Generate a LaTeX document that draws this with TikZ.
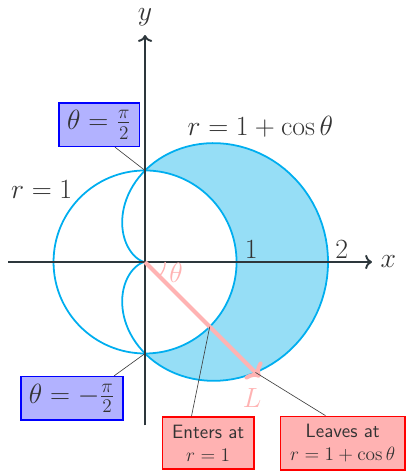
\documentclass[tikz,border=0pt]{standalone}
\usepackage{amsmath,amssymb}
\usepackage{xcolor}
\usepackage{tikz}
\usetikzlibrary{arrows.meta,positioning,calc}
\definecolor{cardcyan}{RGB}{0,174,239}
\definecolor{shadeblue}{RGB}{150,222,246}
\definecolor{axisgray}{RGB}{45,55,60}
\definecolor{textgray}{RGB}{51,51,51}
\definecolor{raypink}{RGB}{255,179,179}
\tikzset{
  axisline/.style={line width=1.2pt, axisgray, ->},
  curve/.style={line width=1.1pt, cardcyan},
  region/.style={fill=shadeblue},
  raystyle/.style={line width=2.5pt, raypink, ->},
  lbl/.style={font=\LARGE, text=textgray},
  thetabox/.style={rectangle, draw=blue, line width=1pt, fill=blue!30, font=\LARGE, text=textgray, inner xsep=5pt, inner ysep=4.5pt},
  notebox/.style={rectangle, draw=red, line width=1pt, fill=red!30, font=\large\sffamily, align=center, text=textgray, inner xsep=6pt, inner ysep=5pt},
  pointer/.style={thin, black!75}
}

\begin{document}
\begin{tikzpicture}[x=2cm,y=2cm]
  \useasboundingbox (-1.585,-2.295) rectangle (2.918,2.863);
  % shaded part between circle and cardioid
  \fill[region] plot[domain=-90:90,samples=100] ({(1+cos(\x))*cos(\x)},{(1+cos(\x))*sin(\x)})
    arc[start angle=90,end angle=-90,radius=1] -- cycle;
  \draw[curve] (0,0) circle[radius=1];
  \draw[curve] plot[domain=0:360,samples=150] ({(1+cos(\x))*cos(\x)},{(1+cos(\x))*sin(\x)}) -- cycle;

  % axes
  \coordinate (O) at (0,0);
  \coordinate (xl) at (-1.497,0);
  \coordinate (xr) at (2.48,0);
  \coordinate (yb) at (0,-1.786);
  \coordinate (yt) at (0,2.48);
  \draw[axisline] (xl) -- (xr);
  \draw[axisline] (yb) -- (yt);
  \node[lbl] (xlbl) at (2.66,0) {$x$};
  \node[lbl] (ylbl) at (0,2.68) {$y$};
  \node[lbl] (one) at (1.16,0.14) {$1$};
  \node[lbl] (two) at (2.15,0.14) {$2$};
  \node[lbl] (rone) at (-1.13,0.79) {$r=1$};
  \node[lbl] (rcard) at (1.26,1.475) {$r=1+\cos\theta$};

  % ray L
  \coordinate (top) at (0,1);
  \coordinate (bot) at (0,-1);
  \coordinate (ent) at (-45:1);
  \coordinate (lv) at (-45:1.7071);
  \coordinate (Lend) at (-45:1.78);
  \draw[raystyle] (O) -- (Lend);
  \draw[raypink, thick] (0.22,0) arc[start angle=0,end angle=-45,radius=0.22];
  \node[lbl, text=raypink] (thlbl) at (0.34,-0.12) {$\theta$};
  \node[lbl, text=raypink] (Llbl) at (1.17,-1.49) {$L$};

  % boxes
  \node[thetabox] (pibox) at (-0.50,1.50) {$\theta=\frac{\pi}{2}$};
  \node[thetabox] (mpibox) at (-0.80,-1.49) {$\theta=-\frac{\pi}{2}$};
  \node[notebox] (entbox) at (0.69,-1.98) {Enters at\\ $r=1$};
  \node[notebox] (lvbox) at (2.16,-1.98) {Leaves at\\ $r=1+\cos\theta$};
  \draw[pointer] (pibox.-55) -- (top);
  \draw[pointer] (mpibox.28) -- (bot);
  \draw[pointer] (entbox.122) -- (ent);
  \draw[pointer] (lvbox.122) -- (lv);
\end{tikzpicture}
\end{document}
